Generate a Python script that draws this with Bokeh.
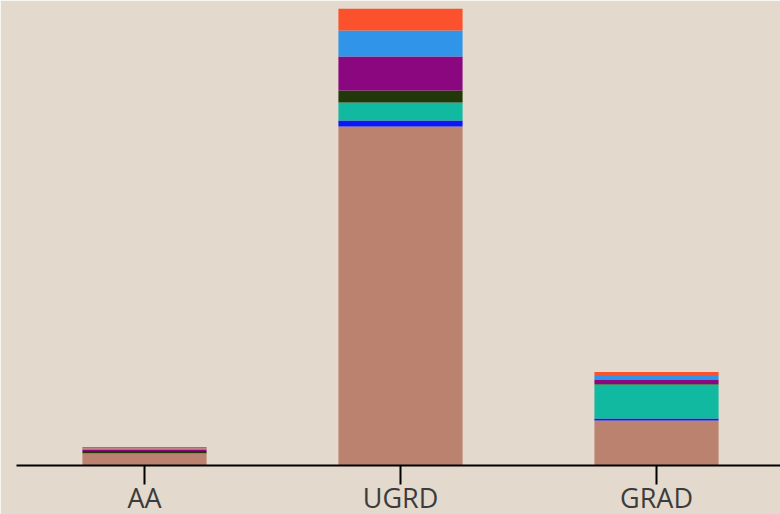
from bokeh.plotting import figure
from bokeh.models import Range1d
from bokeh.embed import file_html
from bokeh.resources import INLINE

categories = ["AA", "UGRD", "GRAD"]
series = ["White", "Two or More", "Nonresident", "Black", "Hispanic", "Asian", "Unknown"]
white = [115, 3390, 450]
two_or_more = [5, 60, 20]
nonresident = [5, 180, 340]
black = [20, 120, 5]
hispanic = [15, 340, 40]
asian = [10, 260, 40]
unknown = [15, 220, 40]
colors = ["#bc8270", "#0c17f5", "#10b9a0", "#20380a", "#8a0780", "#3095e8", "#fb512c"]

data = {"cat": categories}
for name, vals in zip(series, [white, two_or_more, nonresident, black, hispanic, asian, unknown]):
    data[name] = vals

total_max = max(sum(v) for v in zip(white, two_or_more, nonresident, black, hispanic, asian, unknown))

BG = "#e3d9cc"
p = figure(x_range=categories, y_range=Range1d(0, total_max), width=784, height=518,
           output_backend="svg", toolbar_location=None,
           background_fill_color=BG, border_fill_color=BG,
           min_border_left=16, min_border_right=0, min_border_top=8, min_border_bottom=53)
p.outline_line_color = BG
p.outline_line_width = 1
p.vbar_stack(series, x="cat", width=0.485, color=colors, line_color=None, source=data)

p.yaxis.visible = False
p.xgrid.visible = False
p.ygrid.visible = False
ax = p.xaxis[0]
ax.axis_line_color = "black"
ax.axis_line_width = 2
ax.major_tick_line_color = "black"
ax.major_tick_line_width = 2
ax.major_tick_in = 0
ax.major_tick_out = 19
ax.minor_tick_line_color = None
ax.major_label_standoff = -6
ax.major_label_text_font = "Open Sans"
ax.major_label_text_font_size = "27px"
ax.major_label_text_color = "#3c3c3c"
ax.major_label_orientation = "horizontal"
p.x_range.range_padding = 0

open("out.html", "w").write(file_html(p, INLINE))
